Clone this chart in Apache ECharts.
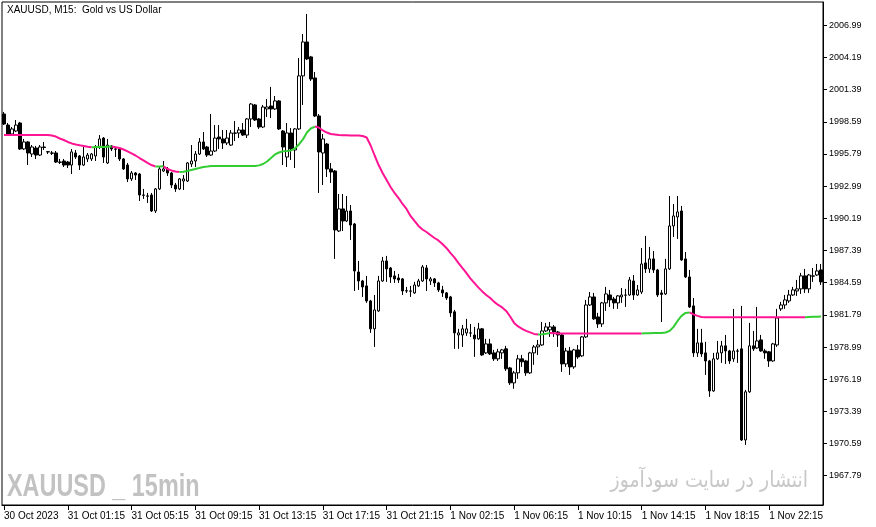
<!DOCTYPE html>
<html>
<head>
<meta charset="utf-8">
<script src="https://cdn.jsdelivr.net/npm/echarts@6/dist/echarts.min.js"></script>
<style>
html,body{margin:0;padding:0;background:#fff;}
#chart{width:876px;height:527px;}
</style>
</head>
<body>
<div id="chart"></div>
<script>
// Tick labels on the time axis (one every 16 bars of 15 minutes)
const tickLabels = ["30 Oct 2023","31 Oct 01:15","31 Oct 05:15","31 Oct 09:15","31 Oct 13:15","31 Oct 17:15","31 Oct 21:15","1 Nov 02:15","1 Nov 06:15","1 Nov 10:15","1 Nov 14:15","1 Nov 18:15","1 Nov 22:15"];
const barsPerTick = 16;

// Price axis labels
const priceTicks = [1967.79,1970.59,1973.39,1976.19,1978.99,1981.79,1984.59,1987.39,1990.19,1992.99,1995.79,1998.59,2001.39,2004.19,2006.99];

// Candles: [open, close, low, high]
const ohlc = [
[1999.27,1998.40,1998.31,1999.45],[1998.31,1997.53,1997.44,1998.49],[1997.53,1997.97,1997.44,1998.14],[1997.79,1998.31,1997.70,1998.75],
[1998.49,1996.23,1996.14,1998.58],[1996.23,1996.84,1996.14,1997.10],[1996.84,1995.88,1994.83,1996.92],[1995.79,1996.40,1995.53,1996.57],
[1996.31,1995.70,1995.36,1996.49],[1995.70,1996.40,1995.62,1996.57],[1996.40,1996.36,1996.14,1996.84],[1995.99,1995.97,1995.79,1996.05],
[1995.88,1995.86,1995.70,1996.05],[1995.88,1995.09,1995.01,1996.05],[1995.09,1995.07,1994.92,1995.36],[1995.18,1994.83,1994.66,1995.36],
[1995.09,1994.83,1994.57,1995.18],[1994.83,1995.97,1994.05,1996.23],[1995.88,1995.53,1995.36,1996.14],[1995.62,1994.83,1994.40,1995.70],
[1994.83,1995.53,1994.75,1996.40],[1995.36,1995.70,1995.09,1995.88],[1995.36,1995.79,1995.18,1995.88],[1995.62,1996.40,1995.18,1996.57],
[1996.40,1997.10,1996.23,1997.44],[1997.18,1995.53,1995.01,1997.27],[1995.01,1996.57,1994.92,1997.10],[1996.49,1996.23,1996.05,1996.57],
[1996.23,1996.21,1995.53,1996.31],[1996.23,1995.36,1995.18,1996.31],[1995.36,1994.49,1994.40,1995.44],[1994.83,1993.62,1993.35,1995.01],
[1993.62,1994.14,1993.44,1994.31],[1994.14,1993.96,1993.53,1994.22],[1994.05,1992.22,1991.70,1994.14],[1992.22,1992.20,1991.88,1992.75],
[1992.14,1992.12,1991.53,1992.40],[1992.22,1990.83,1990.75,1992.40],[1990.83,1992.75,1990.66,1992.83],[1992.75,1994.49,1992.66,1994.66],
[1994.31,1994.49,1994.22,1995.18],[1994.49,1994.14,1993.88,1994.66],[1994.14,1993.09,1992.83,1994.22],[1993.09,1992.75,1992.49,1993.27],
[1992.75,1993.62,1992.66,1993.70],[1993.44,1993.62,1992.66,1993.96],[1993.44,1995.01,1993.35,1995.09],[1994.92,1995.18,1994.66,1996.57],
[1995.18,1995.79,1994.66,1996.05],[1995.79,1996.84,1995.70,1997.18],[1996.84,1996.23,1996.14,1997.70],[1996.40,1995.70,1995.53,1996.49],
[1995.70,1996.05,1995.62,1999.27],[1996.05,1997.18,1995.97,1998.31],[1997.27,1997.10,1996.23,1998.31],[1997.10,1996.75,1996.23,1997.88],
[1996.75,1997.18,1996.57,1997.88],[1996.57,1997.62,1996.49,1997.88],[1997.62,1997.60,1996.92,1998.66],[1997.62,1997.88,1997.18,1998.14],
[1997.88,1997.44,1997.36,1998.49],[1997.44,1998.84,1997.18,1998.92],[1998.84,2000.14,1998.14,2000.23],[2000.06,1998.75,1998.66,2000.14],
[1998.84,1998.14,1997.97,1998.92],[1998.14,1999.88,1998.05,2000.06],[1999.71,1999.88,1999.01,2000.58],[1999.97,1999.71,1998.92,2001.63],
[1999.71,2000.41,1999.62,2000.84],[2000.41,1997.97,1997.88,2000.49],[1997.79,1996.40,1994.83,1997.88],[1995.53,1997.62,1994.66,1998.49],
[1997.62,1996.23,1995.27,1998.05],[1996.14,1997.97,1994.57,1998.05],[1997.97,2002.59,1997.88,2004.15],[2002.59,2005.54,2000.06,2006.24],
[2005.54,2004.06,2003.97,2007.98],[2004.24,2002.32,2002.15,2004.33],[2002.41,1999.10,1999.01,2002.93],[1999.10,1995.97,1992.40,1999.27],
[1995.88,1997.10,1993.09,1997.53],[1996.66,1994.49,1993.79,1996.75],[1994.49,1994.22,1993.27,1995.01],[1994.31,1989.18,1986.66,1994.40],
[1989.09,1991.01,1989.00,1992.31],[1991.01,1989.96,1989.09,1992.31],[1989.96,1990.83,1989.87,1992.14],[1990.83,1989.61,1988.31,1991.35],
[1989.70,1985.61,1983.87,1989.79],[1985.52,1984.74,1983.96,1986.48],[1984.74,1984.22,1983.35,1984.83],[1984.31,1983.00,1982.83,1985.18],
[1983.00,1980.57,1980.22,1983.09],[1980.57,1982.22,1979.00,1983.52],[1982.13,1984.74,1982.05,1985.18],[1984.74,1986.48,1984.66,1986.83],
[1986.48,1985.79,1984.66,1986.92],[1985.87,1985.09,1984.57,1985.96],[1985.18,1984.92,1984.57,1985.61],[1985.00,1984.83,1984.57,1985.35],
[1984.92,1983.87,1983.52,1985.00],[1983.89,1983.87,1983.70,1984.22],[1983.87,1983.85,1983.35,1984.31],[1983.70,1984.39,1983.61,1984.66],
[1984.31,1984.74,1984.22,1984.92],[1984.74,1985.96,1984.66,1986.13],[1985.87,1984.92,1983.87,1986.13],[1984.74,1984.92,1984.39,1985.09],
[1984.92,1984.57,1984.22,1985.00],[1984.57,1983.96,1983.78,1984.66],[1983.96,1983.70,1983.35,1984.31],[1983.70,1983.26,1983.09,1983.78],
[1983.35,1981.96,1981.61,1983.44],[1982.05,1980.22,1978.83,1982.22],[1980.04,1980.22,1978.83,1980.57],[1980.04,1980.57,1979.00,1980.91],
[1980.22,1980.57,1979.96,1981.44],[1980.22,1980.20,1979.87,1981.00],[1980.04,1979.70,1978.13,1980.74],[1979.70,1980.57,1979.61,1981.09],
[1980.57,1978.30,1978.22,1980.65],[1978.48,1979.26,1978.39,1979.70],[1979.26,1978.39,1978.30,1979.70],[1978.48,1977.96,1977.78,1978.74],
[1977.96,1978.57,1977.78,1978.83],[1978.48,1978.74,1977.96,1978.83],[1978.83,1977.09,1976.91,1979.09],[1977.17,1975.87,1975.69,1977.26],
[1975.87,1976.74,1975.35,1976.91],[1976.74,1977.96,1976.22,1978.30],[1977.96,1977.70,1977.26,1978.30],[1977.78,1976.74,1976.48,1977.87],
[1976.74,1978.48,1976.65,1978.57],[1978.48,1979.00,1977.44,1979.17],[1979.00,1979.17,1978.30,1979.61],[1979.17,1980.39,1979.09,1981.17],
[1980.39,1980.74,1980.30,1981.09],[1980.48,1980.74,1979.87,1981.17],[1980.74,1980.30,1979.87,1980.91],[1980.30,1980.04,1979.00,1980.39],
[1980.04,1977.52,1976.83,1980.13],[1977.52,1978.65,1977.26,1978.91],[1978.65,1977.26,1976.56,1979.00],[1977.26,1978.74,1977.09,1978.83],
[1978.74,1978.13,1977.96,1979.17],[1978.22,1979.87,1978.13,1979.96],[1979.87,1982.65,1979.78,1983.09],[1982.65,1983.35,1982.57,1983.78],
[1983.35,1981.44,1981.35,1983.70],[1981.61,1981.00,1980.65,1981.96],[1981.00,1982.83,1980.74,1982.92],[1982.83,1983.61,1982.13,1984.22],
[1983.52,1983.09,1982.48,1983.96],[1983.17,1982.83,1982.31,1983.35],[1982.83,1983.44,1982.31,1983.52],[1983.35,1983.52,1982.83,1984.13],
[1983.50,1983.52,1982.48,1984.05],[1983.52,1984.83,1983.44,1985.09],[1984.74,1983.52,1983.09,1985.26],[1983.52,1983.96,1983.44,1984.39],
[1983.78,1986.22,1983.61,1987.61],[1986.31,1985.79,1985.44,1988.66],[1985.79,1986.66,1985.44,1987.70],[1986.66,1985.70,1985.44,1987.35],
[1985.70,1983.52,1983.35,1985.79],[1983.70,1983.57,1981.17,1983.96],[1983.61,1985.79,1983.52,1986.66],[1985.79,1989.53,1985.70,1992.14],
[1989.53,1990.40,1988.57,1991.44],[1990.31,1990.75,1988.40,1992.14],[1990.83,1986.57,1986.48,1991.27],[1986.66,1985.09,1985.00,1987.26],
[1985.09,1982.48,1982.39,1985.70],[1982.57,1978.48,1978.13,1983.26],[1978.48,1979.35,1978.13,1980.57],[1979.35,1978.39,1978.13,1980.57],
[1978.48,1977.78,1976.56,1979.44],[1977.78,1975.17,1974.65,1977.87],[1975.17,1977.96,1975.09,1978.48],[1977.96,1978.48,1977.87,1979.52],
[1978.48,1979.09,1977.61,1979.52],[1979.09,1978.65,1977.52,1980.04],[1978.65,1977.78,1977.52,1978.74],[1977.96,1978.65,1977.70,1982.31],
[1978.65,1978.63,1977.61,1978.83],[1978.83,1970.90,1970.81,1982.57],[1970.90,1975.09,1970.47,1975.26],[1975.09,1979.09,1975.00,1981.09],
[1979.09,1978.83,1978.65,1980.39],[1978.91,1979.52,1978.83,1982.48],[1979.61,1978.65,1978.57,1980.04],[1978.65,1978.48,1977.96,1978.83],
[1978.57,1977.78,1977.26,1978.65],[1977.78,1979.26,1977.70,1979.35],[1979.17,1981.52,1979.00,1982.31],[1982.31,1982.65,1982.13,1982.92],
[1982.65,1983.09,1982.31,1983.52],[1983.00,1983.52,1982.83,1983.96],[1983.52,1983.96,1983.44,1984.22],[1983.87,1984.05,1983.44,1984.83],
[1984.05,1985.18,1983.61,1985.44],[1985.18,1984.05,1983.70,1985.79],[1984.05,1985.26,1983.70,1985.35],[1985.18,1985.16,1984.66,1985.87],
[1985.26,1985.61,1985.18,1986.22],[1985.70,1984.66,1984.39,1986.22]
];

// Trend line (one value per bar)
const trendLine = [
1997.44,1997.44,1997.44,1997.44,1997.44,1997.44,1997.44,1997.44,1997.44,1997.44,1997.44,1997.44,
1997.40,1997.31,1997.14,1997.01,1996.84,1996.71,1996.62,1996.55,1996.49,1996.43,1996.38,1996.40,
1996.42,1996.40,1996.43,1996.45,1996.38,1996.31,1996.18,1996.01,1995.84,1995.66,1995.44,1995.23,
1995.01,1994.83,1994.70,1994.71,1994.72,1994.49,1994.36,1994.27,1994.22,1994.24,1994.31,1994.40,
1994.49,1994.57,1994.66,1994.70,
1994.75,1994.75,1994.75,1994.75,1994.75,1994.75,1994.75,1994.75,1994.75,1994.75,1994.75,1994.75,
1994.80,1994.92,1995.14,1995.44,1995.75,1995.92,1996.03,1996.05,1996.10,1996.27,1996.62,1997.06,
1997.66,1998.01,1998.18,1998.10,1997.84,1997.66,1997.53,1997.49,1997.45,1997.43,1997.42,1997.41,
1997.40,1997.40,1997.36,1997.23,1996.53,1995.66,1994.83,1994.14,1993.53,1992.92,1992.40,1991.96,
1991.44,1991.01,1990.40,1989.96,1989.53,1989.22,1989.00,1988.74,1988.48,1988.27,1987.96,1987.61,
1987.18,1986.79,1986.31,1985.87,1985.44,1984.96,1984.57,1984.18,1983.83,1983.52,1983.26,1982.92,
1982.65,1982.44,1982.13,1981.65,1981.09,1980.78,1980.57,1980.39,1980.26,1980.13,1980.08,1980.11,
1980.15,1980.20,1980.19,
1980.17,1980.17,1980.17,1980.17,1980.17,1980.17,1980.17,1980.17,1980.17,1980.17,1980.17,
1980.17,1980.17,1980.17,1980.17,1980.17,1980.17,1980.17,1980.17,1980.17,1980.17,1980.17,
1980.18,1980.19,1980.20,1980.21,1980.22,1980.25,1980.39,1980.74,1981.26,1981.70,1981.96,1982.00,
1981.83,1981.70,1981.61,
1981.59,1981.59,1981.59,1981.59,1981.59,1981.59,1981.59,1981.59,1981.59,1981.59,1981.59,1981.59,1981.59,
1981.59,1981.59,1981.59,1981.59,1981.59,1981.59,1981.59,1981.59,1981.59,1981.59,1981.59,1981.59,1981.59,
1981.61,1981.62,1981.63,1981.64
];

// Colour state of the trend line: runs of 'd' (falling, pink) and 'u' (rising, green)
const trendRuns = [['d',23],['u',2],['d',1],['u',2],['d',11],['u',2],['d',4],['u',34],['d',56],['u',3],['d',23],['u',12],['d',29],['u',4]];

const state = [];
trendRuns.forEach(([s, n]) => { for (let k = 0; k < n; k++) state.push(s); });
const categories = ohlc.map((_, i) => String(i));
function part(flag) {
  return trendLine.map((v, i) => (state[i] === flag || state[i + 1] === flag) ? v : null);
}

const chart = echarts.init(document.getElementById('chart'), null, {renderer: 'canvas'});
const tickFn = (index) => index % barsPerTick === 0;
chart.setOption({
  animation: false,
  backgroundColor: '#ffffff',
  grid: {left: 2, right: 53, top: 2, bottom: 22, show: true, borderColor: '#000', borderWidth: 1, backgroundColor: '#fff'},
  xAxis: {
    type: 'category', data: categories, boundaryGap: true,
    axisLine: {show: true, lineStyle: {color: '#000', width: 1}},
    axisTick: {show: true, interval: tickFn, alignWithLabel: true, length: 5, lineStyle: {color: '#000'}},
    axisLabel: {show: true, interval: tickFn, align: 'left', margin: 6, color: '#000', fontFamily: 'Liberation Sans', fontSize: 10,
      formatter: (v, idx) => tickLabels[Math.round(idx / barsPerTick)] || ''},
    splitLine: {show: false}
  },
  yAxis: {
    type: 'value', position: 'right', min: 1965.24, max: 2009.02, scale: true,
    axisLine: {show: true, lineStyle: {color: '#000', width: 1}},
    axisTick: {show: true, length: 4, customValues: priceTicks, lineStyle: {color: '#000'}},
    axisLabel: {show: true, customValues: priceTicks, margin: 6, color: '#000', fontFamily: 'Liberation Sans', fontSize: 9,
      formatter: (v) => v.toFixed(2)},
    splitLine: {show: false}
  },
  series: [
    {type: 'candlestick', data: ohlc, barWidth: 3,
     itemStyle: {color: '#ffffff', color0: '#000000', borderColor: '#000000', borderColor0: '#000000', borderWidth: 1},
     z: 2},
    {type: 'line', data: part('d'), symbol: 'none', connectNulls: false, lineStyle: {color: '#ff1493', width: 2}, z: 3},
    {type: 'line', data: part('u'), symbol: 'none', connectNulls: false, lineStyle: {color: '#32cd32', width: 2}, z: 3}
  ],
  graphic: [
    {type: 'text', x: 7, y: 5, style: {text: 'XAUUSD, M15:  Gold vs US Dollar', fill: '#000', font: '10px "Liberation Sans"'}},
    {type: 'text', x: 7, y: 472, scaleX: 0.755, originX: 0, originY: 0,
     style: {text: 'XAUUSD _ 15min', fill: '#c2c2c2', font: 'bold 31px "Liberation Sans"'}},
    {type: 'text', x: 808, y: 470, scaleX: 0.86, originX: 0, originY: 0,
     style: {text: 'انتشار در سایت سودآموز', fill: '#c8c8c8', font: '22px "DejaVu Sans"', align: 'right'}}
  ]
});
</script>
</body>
</html>
